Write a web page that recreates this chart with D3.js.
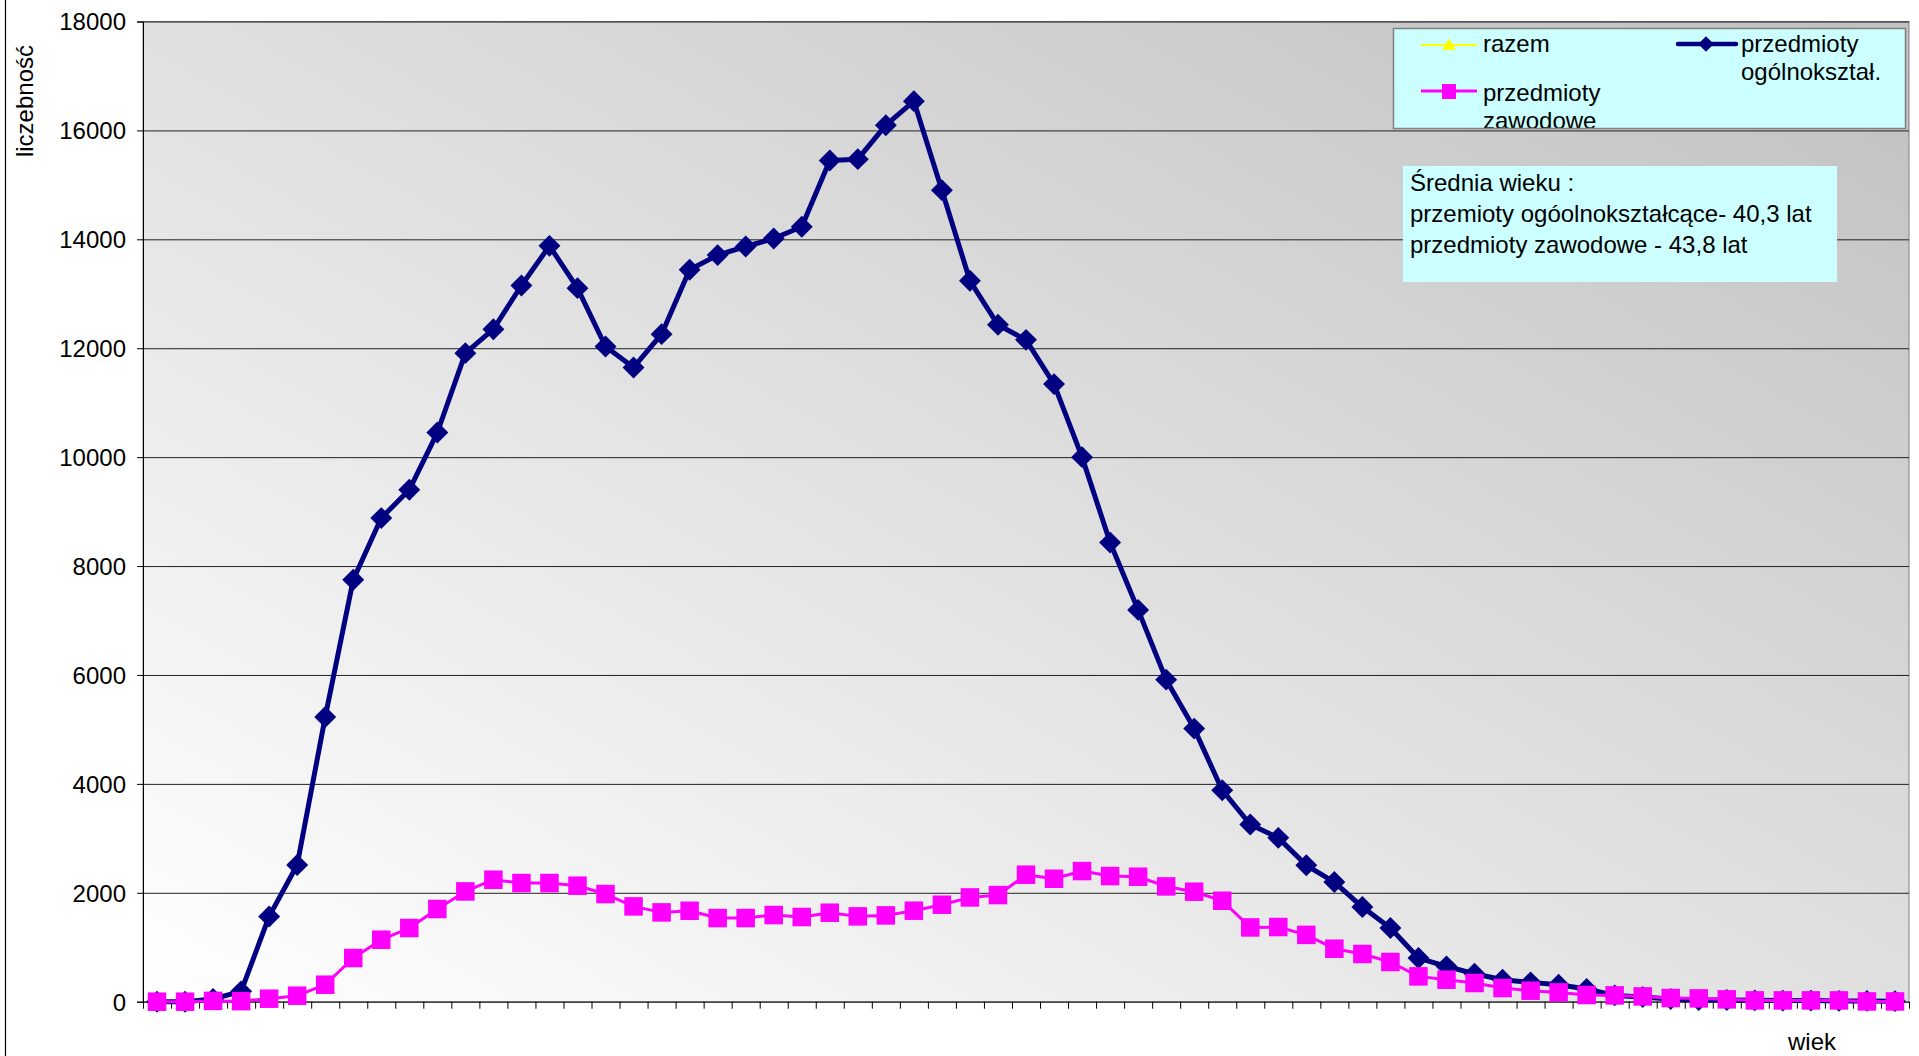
<!DOCTYPE html>
<html>
<head>
<meta charset="utf-8">
<script src="https://cdn.jsdelivr.net/npm/d3@7/dist/d3.min.js"></script>
<style>
  body { margin: 0; background: #fff; }
  svg text { font-family: Arial, "Liberation Sans", sans-serif; fill: #000; }
</style>
</head>
<body>
<script>
// categories: age of the teacher (wiek)
const ages = [18, 19, 20, 21, 22, 23, 24, 25, 26, 27, 28, 29, 30, 31, 32, 33, 34, 35, 36, 37, 38,
  39, 40, 41, 42, 43, 44, 45, 46, 47, 48, 49, 50, 51, 52, 53, 54, 55, 56, 57, 58, 59,
  60, 61, 62, 63, 64, 65, 66, 67, 68, 69, 70, 71, 72, 73, 74, 75, 76, 77, 78, 79, 80];

// przedmioty ogólnokształcące
const ogolne = [0, 0, 50, 190, 1566, 2510, 5227, 7748, 8881, 9400, 10452, 11910, 12350, 13152,
  13880, 13103, 12032, 11647, 12259, 13440, 13710, 13868, 14015, 14230, 15446, 15472, 16096,
  16537, 14903, 13238, 12430, 12154, 11341, 10000, 8433, 7195, 5914, 5015, 3884, 3254, 3009,
  2505, 2197, 1738, 1353, 802, 649, 514, 404, 355, 312, 233, 116, 86, 49, 31, 31, 25, 20, 20,
  15, 15, 10];

// przedmioty zawodowe
const zawodowe = [0, 0, 15, 10, 55, 110, 312, 802, 1138, 1353, 1702, 2025, 2240, 2179, 2179,
  2130, 1977, 1750, 1640, 1670, 1536, 1536, 1591, 1555, 1634, 1567, 1585, 1671, 1781, 1915,
  1958, 2332, 2258, 2399, 2307, 2295, 2117, 2020, 1854, 1364, 1371, 1227, 973, 876, 729, 465,
  404, 343, 251, 202, 171, 123, 116, 97, 67, 61, 43, 24, 24, 24, 24, 5, 5];

const yTicks = [0, 2000, 4000, 6000, 8000, 10000, 12000, 14000, 16000, 18000];

const legendNames = ['razem', 'przedmioty ogólnokształ.', 'przedmioty zawodowe'];
const noteLines = ['Średnia wieku :', 'przemioty ogóolnokształcące- 40,3 lat',
  'przedmioty zawodowe - 43,8 lat'];

const W = 1919, H = 1056;
const margin = { top: 21.5, right: 10, bottom: 54.3, left: 143 };
const width = W - margin.left - margin.right;
const height = H - margin.top - margin.bottom;

const svg = d3.select('body').append('svg')
  .attr('width', W)
  .attr('height', H);

const defs = svg.append('defs');
const grad = defs.append('linearGradient')
  .attr('id', 'bg')
  .attr('x1', 0).attr('y1', 1)
  .attr('x2', 1).attr('y2', 0);
grad.append('stop').attr('offset', 0).attr('stop-color', '#ffffff');
grad.append('stop').attr('offset', 1).attr('stop-color', '#c0c0c0');

// chart area edge on the left
svg.append('line')
  .attr('x1', 5.5).attr('x2', 5.5)
  .attr('y1', 0).attr('y2', H)
  .attr('stroke', '#000')
  .attr('stroke-width', 1.2);

const g = svg.append('g')
  .attr('transform', `translate(${margin.left},${margin.top})`);

const x = d3.scaleBand()
  .domain(ages)
  .range([0, width]);

const xEdge = d3.scaleLinear()
  .domain([0, ages.length])
  .range([0, width]);

const y = d3.scaleLinear()
  .domain([0, 18000])
  .range([height, 0]);

// plot area
g.append('rect')
  .attr('width', width)
  .attr('height', height)
  .attr('fill', 'url(#bg)')
  .attr('stroke', '#808080')
  .attr('stroke-width', 1);

// gridlines
g.append('g')
  .attr('class', 'grid')
  .call(d3.axisLeft(y)
    .tickValues(yTicks.filter(d => d > 0))
    .tickSize(-width)
    .tickFormat(''))
  .call(s => s.select('.domain').remove())
  .selectAll('line')
  .attr('stroke', '#222');

// y axis
const yAxis = g.append('g')
  .call(d3.axisLeft(y)
    .tickValues(yTicks)
    .tickSize(6)
    .tickPadding(11)
    .tickFormat(d3.format('d')));
yAxis.attr('font-size', null).attr('font-family', null);
yAxis.selectAll('text').style('font-size', '24px').attr('dy', '0.35em');
yAxis.select('.domain').attr('stroke', '#000');

// x axis, ticks between categories
const xAxis = g.append('g')
  .attr('transform', `translate(0,${height})`)
  .call(d3.axisBottom(xEdge)
    .tickValues(d3.range(ages.length + 1))
    .tickSize(7)
    .tickSizeOuter(0)
    .tickFormat(''));
xAxis.select('.domain').attr('stroke', '#000');

const cx = (d, i) => x(ages[i]) + x.bandwidth() / 2;

const line = d3.line()
  .x((d, i) => cx(d, i))
  .y(d => y(d));

// przedmioty ogólnokształcące
g.append('path')
  .datum(ogolne)
  .attr('fill', 'none')
  .attr('stroke', '#000080')
  .attr('stroke-width', 5)
  .attr('stroke-linejoin', 'round')
  .attr('d', line);

const diamond = d3.symbol(d3.symbolSquare, 240);
g.selectAll('.dia')
  .data(ogolne)
  .enter().append('path')
  .attr('class', 'dia')
  .attr('d', diamond)
  .attr('fill', '#000080')
  .attr('transform', (d, i) => `translate(${cx(d, i)},${y(d)}) rotate(45)`);

// przedmioty zawodowe
g.append('path')
  .datum(zawodowe)
  .attr('fill', 'none')
  .attr('stroke', '#ff00ff')
  .attr('stroke-width', 3)
  .attr('stroke-linejoin', 'round')
  .attr('d', line);

g.selectAll('.sq')
  .data(zawodowe)
  .enter().append('rect')
  .attr('class', 'sq')
  .attr('x', (d, i) => cx(d, i) - 9.25)
  .attr('y', d => y(d) - 9.25)
  .attr('width', 18.5)
  .attr('height', 18.5)
  .attr('fill', '#ff00ff');

// axis titles
svg.append('text')
  .attr('transform', 'translate(33,45) rotate(-90)')
  .attr('text-anchor', 'end')
  .style('font-size', '24px')
  .text('liczebność');

svg.append('text')
  .attr('x', 1788)
  .attr('y', 1050)
  .style('font-size', '24px')
  .text('wiek');

// legend
const lg = svg.append('g');
defs.append('clipPath').attr('id', 'legclip')
  .append('rect')
  .attr('x', 1393).attr('y', 28.5)
  .attr('width', 513).attr('height', 100);

lg.append('rect')
  .attr('x', 1393.5).attr('y', 28.5)
  .attr('width', 512).attr('height', 100)
  .attr('fill', '#ccffff');

const lgc = lg.append('g').attr('clip-path', 'url(#legclip)');

// razem
lgc.append('line')
  .attr('x1', 1421).attr('x2', 1477).attr('y1', 45).attr('y2', 45)
  .attr('stroke', '#ffff00').attr('stroke-width', 2);
lgc.append('path')
  .attr('d', d3.symbol(d3.symbolTriangle, 80))
  .attr('transform', 'translate(1449,46)')
  .attr('fill', '#ffff00');
lgc.append('text')
  .attr('x', 1483).attr('y', 52)
  .style('font-size', '24px')
  .text(legendNames[0]);

// ogólnokształ.
lgc.append('line')
  .attr('x1', 1678).attr('x2', 1736).attr('y1', 44).attr('y2', 44)
  .attr('stroke', '#000080').attr('stroke-width', 4.5).attr('stroke-linecap', 'round');
lgc.append('path')
  .attr('d', d3.symbol(d3.symbolSquare, 120))
  .attr('transform', 'translate(1706,44) rotate(45)')
  .attr('fill', '#000080');
const t1 = lgc.append('text')
  .attr('x', 1741).attr('y', 52)
  .style('font-size', '24px');
t1.append('tspan').attr('x', 1741).text('przedmioty');
t1.append('tspan').attr('x', 1741).attr('dy', 28).text('ogólnokształ.');

// zawodowe
lgc.append('line')
  .attr('x1', 1421).attr('x2', 1477).attr('y1', 91).attr('y2', 91)
  .attr('stroke', '#ff00ff').attr('stroke-width', 3);
lgc.append('rect')
  .attr('x', 1442).attr('y', 84).attr('width', 14).attr('height', 15)
  .attr('fill', '#ff00ff');
const t2 = lgc.append('text')
  .attr('x', 1483).attr('y', 101)
  .style('font-size', '24px');
t2.append('tspan').attr('x', 1483).text('przedmioty');
t2.append('tspan').attr('x', 1483).attr('dy', 28).text('zawodowe');

lg.append('rect')
  .attr('x', 1393.5).attr('y', 28.5)
  .attr('width', 512).attr('height', 100)
  .attr('fill', 'none')
  .attr('stroke', '#808080')
  .attr('stroke-width', 1.5);

// note box
svg.append('rect')
  .attr('x', 1403).attr('y', 166)
  .attr('width', 434).attr('height', 116)
  .attr('fill', '#ccffff');

svg.append('g').selectAll('text')
  .data(noteLines)
  .enter().append('text')
  .attr('x', 1410)
  .attr('y', (d, i) => 191 + i * 31)
  .style('font-size', '24px')
  .text(d => d);
</script>
</body>
</html>
